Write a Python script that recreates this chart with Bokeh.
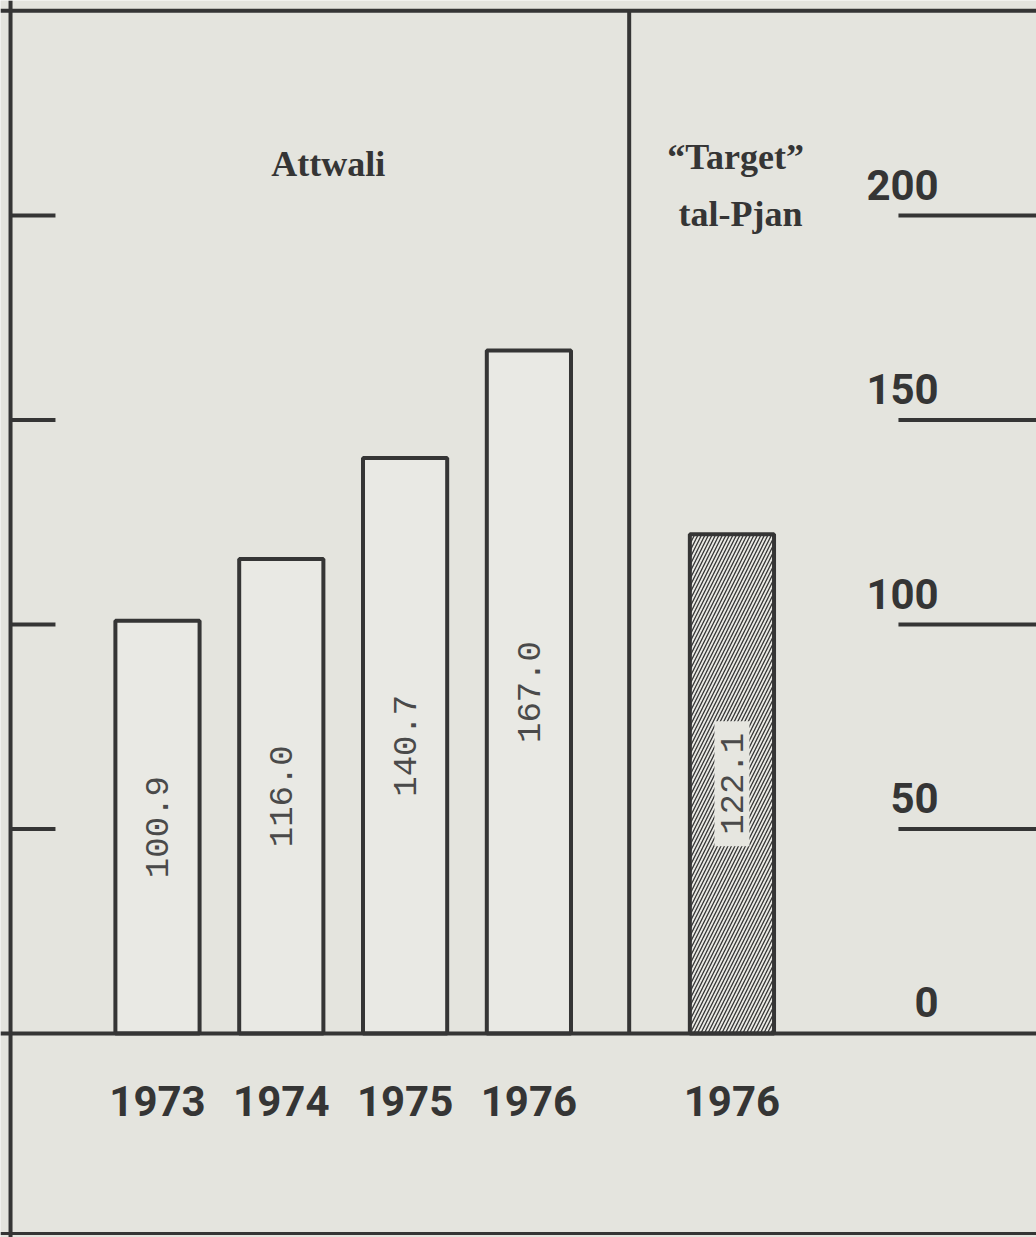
from bokeh.plotting import figure
from bokeh.models import Range1d, Span
from bokeh.core.properties import value
from bokeh.embed import file_html
from bokeh.resources import INLINE

# ---- data ----
years = ["1973", "1974", "1975", "1976"]
attwali = [100.9, 116.0, 140.7, 167.0]
target_years = ["1976"]
target = [122.1]
scale_ticks = [0, 50, 100, 150, 200]
group_titles = ["Attwali"]
target_title = ["\u201cTarget\u201d", "tal-Pjan"]

# ---- style / layout ----
BG = "#e4e4de"
BAR_FILL = "#e9e9e4"
INK = "#353535"
TXT = "#4a4a4a"
GROUP_GAP = 1.64
BAR_W = 0.68
X0, X1 = -1.268, 7.100
Y0, Y1 = -49.9, 252.6
LEFT_X = -1.187
TOP_Y = 250.1

att_x = list(range(len(years)))
tgt_x = [att_x[-1] + GROUP_GAP + i for i in range(len(target))]
div_x = att_x[-1] + 0.81

p = figure(width=1036, height=1237, x_range=Range1d(X0, X1), y_range=Range1d(Y0, Y1),
           output_backend="svg", toolbar_location=None, min_border=0,
           x_axis_location=None, y_axis_location=None,
           background_fill_color=BG, border_fill_color=BG, outline_line_color=None)
p.grid.visible = False

# frame lines
p.add_layout(Span(location=LEFT_X, dimension="height", line_color=INK, line_width=4))
p.add_layout(Span(location=TOP_Y, dimension="width", line_color=INK, line_width=4))
p.add_layout(Span(location=0, dimension="width", line_color=INK, line_width=4))
p.add_layout(Span(location=-48.9, dimension="width", line_color=INK, line_width=3))
p.segment(x0=[div_x], y0=[0], x1=[div_x], y1=[TOP_Y], line_color=INK, line_width=4)

# left tick marks
lt = scale_ticks[1:]
p.segment(x0=[LEFT_X] * len(lt), y0=lt, x1=[-0.824] * len(lt), y1=lt, line_color=INK, line_width=4)

# right scale lines and labels
p.segment(x0=[5.985] * len(lt), y0=lt, x1=[7.3] * len(lt), y1=lt, line_color=INK, line_width=4)
p.text(x=[6.31] * len(scale_ticks), y=scale_ticks, text=[str(t) for t in scale_ticks],
       text_align="right", text_baseline="middle", y_offset=-31,
       text_font=value("Roboto"), text_font_style="bold",
       text_font_size="42px", text_color=INK)

# bars
p.vbar(x=att_x, top=attwali, bottom=0, width=BAR_W, fill_color=BAR_FILL,
       line_color=INK, line_width=4)
p.vbar(x=tgt_x, top=target, bottom=0, width=BAR_W, fill_color=BAR_FILL,
       line_color=INK, line_width=4, hatch_pattern="/", hatch_color=INK,
       hatch_scale=7, hatch_weight=1.3)

# label box on hatched bar
p.rect(x=tgt_x, y=[v / 2 for v in target], width=35, height=125,
       width_units="screen", height_units="screen", fill_color="#e6e6e0", line_color=None)

# value labels
p.text(x=att_x + tgt_x, y=[v / 2 for v in attwali + target],
       text=[f"{v:.1f}" for v in attwali + target], angle=1.5708,
       text_align="center", text_baseline="middle",
       text_font=value("Liberation Mono"), text_font_size="34px", text_color=TXT)

# year labels
p.text(x=att_x + tgt_x, y=[0] * (len(years) + len(target_years)), text=years + target_years,
       text_align="center", text_baseline="middle", y_offset=68,
       text_font=value("Roboto"), text_font_style="bold",
       text_font_size="42px", text_color=INK)

# group titles
p.text(x=[1.38], y=[212.7], text=group_titles, text_align="center", text_baseline="middle",
       text_font=value("Liberation Serif"), text_font_style="bold",
       text_font_size="36px", text_color=INK)
p.text(x=[tgt_x[0] + 0.03, tgt_x[0] + 0.07], y=[214.4, 200.5], text=target_title,
       text_align="center", text_baseline="middle",
       text_font=value("Liberation Serif"), text_font_style="bold",
       text_font_size="36px", text_color=INK)

open("out.html", "w").write(file_html(p, INLINE))
